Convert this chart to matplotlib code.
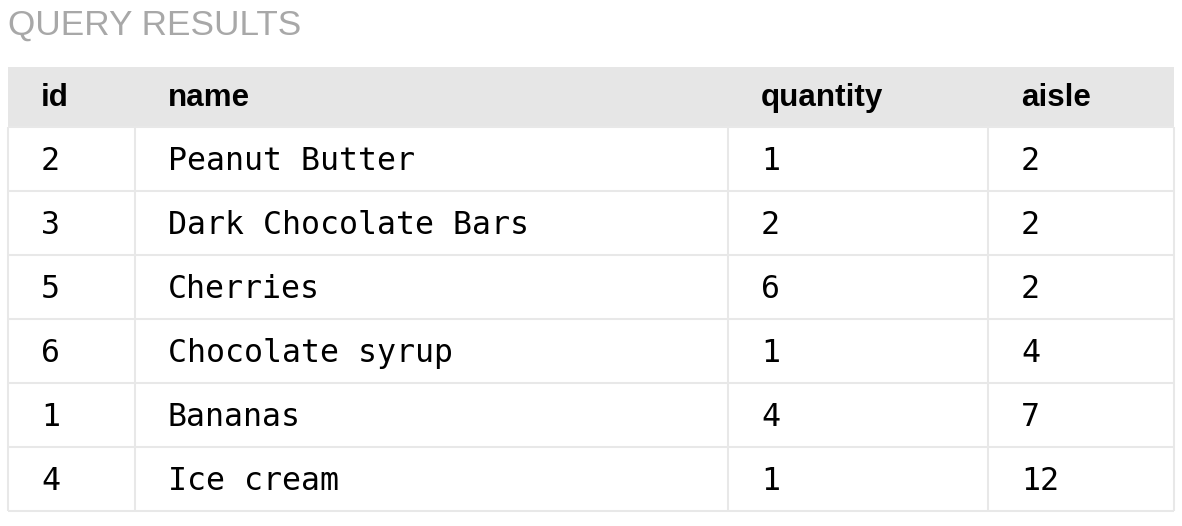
import matplotlib
matplotlib.use("Agg")
import matplotlib.pyplot as plt
from matplotlib.patches import Rectangle

# --- table contents ---
columns = ["id", "name", "quantity", "aisle"]
ids = [2, 3, 5, 6, 1, 4]
names = ["Peanut Butter", "Dark Chocolate Bars", "Cherries",
         "Chocolate syrup", "Bananas", "Ice cream"]
quantities = [1, 2, 6, 1, 4, 1]
aisles = [2, 2, 2, 4, 7, 12]

# --- layout (pixels) ---
W, H = 1182, 526
col_edges = [8, 135, 728, 988, 1174]
head_top, head_bot = 67, 127
row_h = 64
pad = 33
line_c = "#e8e8e8"
lw = 1.5

fig = plt.figure(figsize=(W / 100, H / 100), dpi=100)
ax = fig.add_axes([0, 0, 1, 1])
ax.set_xlim(0, W)
ax.set_ylim(H, 0)
ax.axis("off")

ax.text(8, 35, "QUERY RESULTS", fontsize=25.3, color="#a8a8a8",
        family="Liberation Sans", va="baseline", ha="left")

# header
ax.add_patch(Rectangle((col_edges[0], head_top), col_edges[-1] - col_edges[0],
                       head_bot - head_top, facecolor="#e6e6e6", edgecolor="none"))
hmid = (head_top + head_bot) / 2
for c, label in enumerate(columns):
    ax.text(col_edges[c] + pad, hmid + 9, label, fontsize=22.6, fontweight="bold",
            family="Liberation Sans", va="baseline", ha="left", color="#000000")

# body
rows = list(zip(ids, names, quantities, aisles))
body_bot = head_bot + row_h * len(rows)
for i, row in enumerate(rows):
    top = head_bot + i * row_h
    mid = top + row_h / 2
    for c, val in enumerate(row):
        ax.text(col_edges[c] + pad, mid + 11, str(val), fontsize=22.8,
                family="DejaVu Sans Mono", va="baseline", ha="left", color="#000000")
    ax.plot([col_edges[0], col_edges[-1]], [top + row_h, top + row_h],
            color=line_c, lw=lw, solid_capstyle="butt")

ax.plot([col_edges[0], col_edges[-1]], [head_bot, head_bot],
        color=line_c, lw=lw, solid_capstyle="butt")
for x in col_edges:
    ax.plot([x, x], [head_bot, body_bot], color=line_c, lw=lw, solid_capstyle="butt")

fig.savefig("out.png", dpi=100, facecolor="white")
